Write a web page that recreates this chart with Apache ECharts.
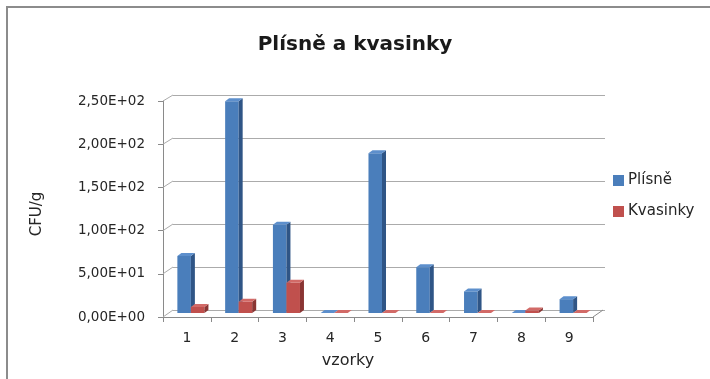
<!DOCTYPE html>
<html>
<head>
<meta charset="utf-8">
<script src="https://cdn.jsdelivr.net/npm/echarts@6/dist/echarts.min.js"></script>
<style>
  html, body { margin: 0; padding: 0; background: #fff; }
  #chart { width: 710px; height: 379px; }
</style>
</head>
<body>
<div id="chart"></div>
<script>
// Samples and measured counts (CFU/g)
const categories = ['1', '2', '3', '4', '5', '6', '7', '8', '9'];
const plisne = [66, 245, 102, 0, 185, 53, 25, 0, 16];
const kvasinky = [7, 13, 35, 0, 0, 0, 0, 3, 0];
const yTicks = [0, 50, 100, 150, 200, 250];

const FONT = 'DejaVu Sans';
const AXIS_GRAY = '#8a8a8a';
const GRID_GRAY = '#ababab';

// Excel-like scientific label: 2,50E+02
function sciLabel(v) {
  const parts = Number(v).toExponential(2).split('e');
  const sign = parts[1][0] === '-' ? '-' : '+';
  const exp = parts[1].replace(/^[+-]/, '').padStart(2, '0');
  return parts[0].replace('.', ',') + 'E' + sign + exp;
}

// Pseudo-3D bar: front face, right side face and top face
const DEPTH_X = 4, DEPTH_Y = 4;   // bar placement behind the front plane
const SIDE_X = 4, SIDE_Y = 3;     // extrusion of each bar
function barRenderer(slot, faces) {
  return function (params, api) {
    const idx = api.value(0);
    const val = api.value(1);
    const topPt = api.coord([idx, val]);
    const basePt = api.coord([idx, 0]);
    const band = api.size([1, 0])[0];
    const w = band * 0.283;
    const x0 = topPt[0] + DEPTH_X - w + slot * w;
    const x1 = x0 + w;
    const yT = topPt[1] - DEPTH_Y;
    const yB = basePt[1] - DEPTH_Y;
    return {
      type: 'group',
      children: [
        { type: 'rect', shape: { x: x0, y: yT, width: w, height: yB - yT },
          style: { fill: faces.front } },
        { type: 'polygon',
          shape: { points: [[x1, yT], [x1 + SIDE_X, yT - SIDE_Y], [x1 + SIDE_X, yB - SIDE_Y], [x1, yB]] },
          style: { fill: faces.side } },
        { type: 'polygon',
          shape: { points: [[x0, yT], [x0 + SIDE_X, yT - SIDE_Y], [x1 + SIDE_X, yT - SIDE_Y], [x1, yT]] },
          style: { fill: faces.top } }
      ]
    };
  };
}

const blueFaces = { front: '#4a7ebb', side: '#2f5586', top: '#5d8fcc' };
const redFaces = { front: '#c0504d', side: '#8a3533', top: '#d26a67' };

const chart = echarts.init(document.getElementById('chart'), null, { renderer: 'canvas' });

const option = {
  backgroundColor: '#ffffff',
  animation: false,
  title: {
    text: 'Plísně a kvasinky',
    left: 'center',
    top: 30,
    textStyle: { fontFamily: FONT, fontSize: 20, fontWeight: 'bold', color: '#1a1a1a' }
  },
  legend: {
    orient: 'vertical',
    left: 608,
    top: 168,
    itemWidth: 11,
    itemHeight: 11,
    itemGap: 16,
    icon: 'rect',
    textStyle: { fontFamily: FONT, fontSize: 15, color: '#262626', padding: [0, 0, 0, -1] },
    data: ['Plísně', 'Kvasinky']
  },
  grid: [
    // back wall
    { left: 173, right: 105, top: 95, bottom: 69 },
    // front plane
    { left: 163, right: 117, top: 101, bottom: 62 }
  ],
  xAxis: [
    { gridIndex: 0, type: 'category', data: categories, show: false },
    {
      gridIndex: 1, type: 'category', data: categories,
      axisLine: { lineStyle: { color: AXIS_GRAY, width: 1 } },
      axisTick: { show: true, length: 5, lineStyle: { color: AXIS_GRAY } },
      axisLabel: { margin: 14, fontFamily: FONT, fontSize: 14, color: '#262626' },
      name: 'vzorky',
      nameLocation: 'middle',
      nameGap: 36,
      nameTextStyle: { fontFamily: FONT, fontSize: 16, color: '#262626', padding: [0, 60, 0, 0] }
    }
  ],
  yAxis: [
    {
      gridIndex: 0, type: 'value', min: 0, max: 250, interval: 50,
      axisLine: { show: false }, axisTick: { show: false }, axisLabel: { show: false },
      splitLine: { show: true, lineStyle: { color: GRID_GRAY, width: 1 } }
    },
    {
      gridIndex: 1, type: 'value', min: 0, max: 250, interval: 50,
      axisLine: { show: true, lineStyle: { color: AXIS_GRAY, width: 1 } },
      axisTick: { show: true, length: 5, lineStyle: { color: AXIS_GRAY } },
      splitLine: { show: false },
      axisLabel: { margin: 18, fontFamily: FONT, fontSize: 13.5, color: '#262626', formatter: sciLabel },
      name: 'CFU/g',
      nameLocation: 'middle',
      nameGap: 118,
      nameRotate: 90,
      nameTextStyle: { fontFamily: FONT, fontSize: 15, color: '#262626', padding: [0, 10, 0, 0] }
    }
  ],
  series: [
    {
      name: 'Plísně', type: 'custom', xAxisIndex: 1, yAxisIndex: 1,
      itemStyle: { color: blueFaces.front },
      renderItem: barRenderer(0, blueFaces),
      encode: { x: 0, y: 1 },
      data: plisne.map((v, i) => [i, v]),
      z: 3
    },
    {
      name: 'Kvasinky', type: 'custom', xAxisIndex: 1, yAxisIndex: 1,
      itemStyle: { color: redFaces.front },
      renderItem: barRenderer(1, redFaces),
      encode: { x: 0, y: 1 },
      data: kvasinky.map((v, i) => [i, v]),
      z: 4
    }
  ]
};

chart.setOption(option);

// Wall and floor edges joining the front plane to the back wall, plus the frame
const edges = [];
const backLeft = chart.convertToPixel({ gridIndex: 0 }, [0, 0]);
const frontLeft = chart.convertToPixel({ gridIndex: 1 }, [0, 0]);
const band = chart.getModel().getComponent('xAxis', 1).axis.getBandWidth();
const frontX0 = frontLeft[0] - band / 2;
const frontX1 = frontX0 + band * categories.length;
const backX0 = backLeft[0] - chart.getModel().getComponent('xAxis', 0).axis.getBandWidth() / 2;
const dx = backX0 - frontX0;
yTicks.forEach(function (t) {
  const yf = chart.convertToPixel({ yAxisIndex: 1 }, t);
  const yb = chart.convertToPixel({ yAxisIndex: 0 }, t);
  edges.push({
    type: 'line', silent: true, z: 1,
    shape: { x1: frontX0, y1: yf, x2: frontX0 + dx, y2: yb },
    style: { stroke: GRID_GRAY, lineWidth: 1 }
  });
});
const yf0 = chart.convertToPixel({ yAxisIndex: 1 }, 0);
const yb0 = chart.convertToPixel({ yAxisIndex: 0 }, 0);
edges.push({
  type: 'line', silent: true, z: 1,
  shape: { x1: frontX1, y1: yf0, x2: frontX1 + dx, y2: yb0 },
  style: { stroke: AXIS_GRAY, lineWidth: 1 }
});
// chart frame (top and left edges)
edges.push({ type: 'line', silent: true, shape: { x1: 6, y1: 7, x2: 710, y2: 7 }, style: { stroke: '#8c8c8c', lineWidth: 2 } });
edges.push({ type: 'line', silent: true, shape: { x1: 7, y1: 6, x2: 7, y2: 379 }, style: { stroke: '#8c8c8c', lineWidth: 2 } });

chart.setOption({ graphic: { elements: edges } });
</script>
</body>
</html>
